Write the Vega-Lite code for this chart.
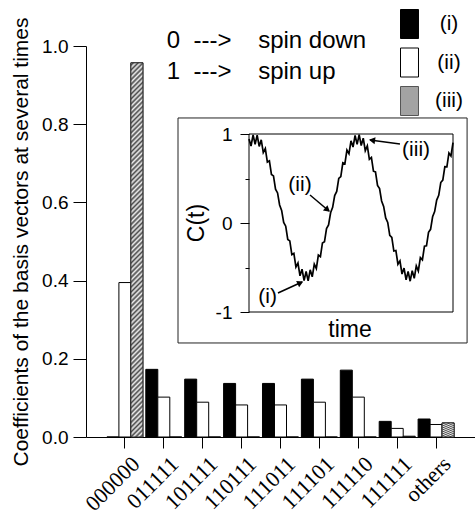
{
  "$schema": "https://vega.github.io/schema/vega-lite/v6.json",
  "width": 389,
  "height": 391,
  "autosize": {"type": "none"},
  "padding": {"left": 86, "top": 46, "right": 0, "bottom": 79},
  "background": "white",
  "config": {
    "view": {"stroke": null},
    "font": "Liberation Sans",
    "axis": {"grid": false, "domainColor": "black", "tickColor": "black", "labelColor": "black", "titleColor": "black", "domainWidth": 1, "tickWidth": 1},
    "text": {"font": "Liberation Sans", "color": "black"}
  },
  "datasets": {
    "bars": [
      {"state": "000000", "series": "(i)", "value": 0},
      {"state": "000000", "series": "(ii)", "value": 0.395},
      {"state": "000000", "series": "(iii)", "value": 0.957},
      {"state": "011111", "series": "(i)", "value": 0.173},
      {"state": "011111", "series": "(ii)", "value": 0.102},
      {"state": "011111", "series": "(iii)", "value": 0},
      {"state": "101111", "series": "(i)", "value": 0.148},
      {"state": "101111", "series": "(ii)", "value": 0.089},
      {"state": "101111", "series": "(iii)", "value": 0},
      {"state": "110111", "series": "(i)", "value": 0.137},
      {"state": "110111", "series": "(ii)", "value": 0.082},
      {"state": "110111", "series": "(iii)", "value": 0},
      {"state": "111011", "series": "(i)", "value": 0.137},
      {"state": "111011", "series": "(ii)", "value": 0.082},
      {"state": "111011", "series": "(iii)", "value": 0},
      {"state": "111101", "series": "(i)", "value": 0.148},
      {"state": "111101", "series": "(ii)", "value": 0.089},
      {"state": "111101", "series": "(iii)", "value": 0},
      {"state": "111110", "series": "(i)", "value": 0.171},
      {"state": "111110", "series": "(ii)", "value": 0.102},
      {"state": "111110", "series": "(iii)", "value": 0},
      {"state": "111111", "series": "(i)", "value": 0.040},
      {"state": "111111", "series": "(ii)", "value": 0.022},
      {"state": "111111", "series": "(iii)", "value": 0.002},
      {"state": "others", "series": "(i)", "value": 0.046},
      {"state": "others", "series": "(ii)", "value": 0.032},
      {"state": "others", "series": "(iii)", "value": 0.036}
    ],
    "curve": [
      {"time": 0, "C": 0.943}, {"time": 1, "C": 0.865}, {"time": 2, "C": 0.990}, {"time": 3, "C": 0.885}, {"time": 4, "C": 0.987},
      {"time": 5, "C": 0.860}, {"time": 6, "C": 0.935}, {"time": 7, "C": 0.792}, {"time": 8, "C": 0.837}, {"time": 9, "C": 0.685},
      {"time": 10, "C": 0.699}, {"time": 11, "C": 0.545}, {"time": 12, "C": 0.529}, {"time": 13, "C": 0.380}, {"time": 14, "C": 0.338},
      {"time": 15, "C": 0.203}, {"time": 16, "C": 0.142}, {"time": 17, "C": 0.007}, {"time": 18, "C": -0.036}, {"time": 19, "C": -0.185},
      {"time": 20, "C": -0.201}, {"time": 21, "C": -0.355}, {"time": 22, "C": -0.342}, {"time": 23, "C": -0.495}, {"time": 24, "C": -0.450},
      {"time": 25, "C": -0.594}, {"time": 26, "C": -0.519}, {"time": 27, "C": -0.647}, {"time": 28, "C": -0.545}, {"time": 29, "C": -0.650},
      {"time": 30, "C": -0.526}, {"time": 31, "C": -0.605}, {"time": 32, "C": -0.463}, {"time": 33, "C": -0.512}, {"time": 34, "C": -0.360},
      {"time": 35, "C": -0.378}, {"time": 36, "C": -0.224}, {"time": 37, "C": -0.211}, {"time": 38, "C": -0.062}, {"time": 39, "C": -0.022},
      {"time": 40, "C": 0.115}, {"time": 41, "C": 0.176}, {"time": 42, "C": 0.308}, {"time": 43, "C": 0.355}, {"time": 44, "C": 0.502},
      {"time": 45, "C": 0.522}, {"time": 46, "C": 0.676}, {"time": 47, "C": 0.666}, {"time": 48, "C": 0.819}, {"time": 49, "C": 0.778},
      {"time": 50, "C": 0.924}, {"time": 51, "C": 0.853}, {"time": 52, "C": 0.983}, {"time": 53, "C": 0.884}, {"time": 54, "C": 0.993},
      {"time": 55, "C": 0.871}, {"time": 56, "C": 0.953}, {"time": 57, "C": 0.813}, {"time": 58, "C": 0.866}, {"time": 59, "C": 0.715},
      {"time": 60, "C": 0.737}, {"time": 61, "C": 0.582}, {"time": 62, "C": 0.574}, {"time": 63, "C": 0.423}, {"time": 64, "C": 0.387},
      {"time": 65, "C": 0.248}, {"time": 66, "C": 0.187}, {"time": 67, "C": 0.057}, {"time": 68, "C": 0.007}, {"time": 69, "C": -0.138},
      {"time": 70, "C": -0.162}, {"time": 71, "C": -0.315}, {"time": 72, "C": -0.309}, {"time": 73, "C": -0.463}, {"time": 74, "C": -0.426},
      {"time": 75, "C": -0.573}, {"time": 76, "C": -0.506}, {"time": 77, "C": -0.638}, {"time": 78, "C": -0.543}, {"time": 79, "C": -0.654},
      {"time": 80, "C": -0.535}, {"time": 81, "C": -0.621}, {"time": 82, "C": -0.482}, {"time": 83, "C": -0.539}, {"time": 84, "C": -0.389},
      {"time": 85, "C": -0.415}, {"time": 86, "C": -0.260}, {"time": 87, "C": -0.256}, {"time": 88, "C": -0.104}, {"time": 89, "C": -0.071},
      {"time": 90, "C": 0.070}, {"time": 91, "C": 0.128}, {"time": 92, "C": 0.258}, {"time": 93, "C": 0.311}, {"time": 94, "C": 0.455},
      {"time": 95, "C": 0.482}, {"time": 96, "C": 0.634}, {"time": 97, "C": 0.632}, {"time": 98, "C": 0.787}, {"time": 99, "C": 0.754},
      {"time": 100, "C": 0.902}
    ]
  },
  "layer": [
    {
      "data": {"name": "bars"},
      "layer": [
        {
          "mark": {"type": "bar", "stroke": "black", "strokeWidth": 1},
          "encoding": {
            "x": {
              "field": "state", "type": "nominal", "sort": null,
              "scale": {"domain": ["000000", "011111", "101111", "110111", "111011", "111101", "111110", "111111", "others"], "paddingInner": 0, "paddingOuter": 0.5},
              "axis": {"title": null, "labelFont": "Liberation Serif", "labelFontSize": 22, "labelAngle": -45, "labelAlign": "right", "labelBaseline": "top", "labelPadding": 5, "labelOffset": 4, "tickSize": 11, "labelOverlap": false}
            },
            "xOffset": {"field": "series", "type": "nominal", "scale": {"domain": ["(i)", "(ii)", "(iii)"], "paddingInner": 0, "paddingOuter": 0.1208}},
            "y": {
              "field": "value", "type": "quantitative",
              "scale": {"domain": [0, 1], "nice": false},
              "axis": {
                "title": "Coefficients of the basis vectors at several times",
                "titleFontSize": 21, "titleFontWeight": "normal", "titlePadding": 10,
                "values": [0, 0.1, 0.2, 0.3, 0.4, 0.5, 0.6, 0.7, 0.8, 0.9, 1.0],
                "labelExpr": "round(datum.value*10) % 2 === 0 ? format(datum.value, '.1f') : ''",
                "labelFontSize": 19, "labelPadding": 5, "labelOverlap": false,
                "tickSize": {"condition": {"test": "round(datum.value*10) % 2 === 1", "value": 6}, "value": 13}
              }
            },
            "fill": {
              "field": "series", "type": "nominal",
              "scale": {"domain": ["(i)", "(ii)", "(iii)"], "range": ["black", "white", "#a3a3a3"]},
              "legend": {
                "orient": "none", "legendX": 308.5, "legendY": -37, "title": null, "padding": 0,
                "symbolType": "M-0.62,-1H0.62V1H-0.62Z", "symbolSize": 841, "symbolStrokeColor": "black", "symbolStrokeWidth": 1,
                "labelFontSize": 21, "labelAlign": "center", "labelOffset": 24.5, "rowPadding": 4.5, "labelColor": "black",
                "encode": {
                  "symbols": {
                    "update": {
                      "fill": {"signal": "datum.value === '(i)' ? 'black' : datum.value === '(ii)' ? 'white' : {gradient: 'linear', x1: 0, y1: 0, x2: 0.726, y2: 1.17, stops: [{offset: 0, color: '#efefef'}, {offset: 0.05, color: '#4a4a4a'}, {offset: 0.1, color: '#efefef'}, {offset: 0.15, color: '#4a4a4a'}, {offset: 0.2, color: '#efefef'}, {offset: 0.25, color: '#4a4a4a'}, {offset: 0.3, color: '#efefef'}, {offset: 0.35, color: '#4a4a4a'}, {offset: 0.4, color: '#efefef'}, {offset: 0.45, color: '#4a4a4a'}, {offset: 0.5, color: '#efefef'}, {offset: 0.55, color: '#4a4a4a'}, {offset: 0.6, color: '#efefef'}, {offset: 0.65, color: '#4a4a4a'}, {offset: 0.7, color: '#efefef'}, {offset: 0.75, color: '#4a4a4a'}, {offset: 0.8, color: '#efefef'}, {offset: 0.85, color: '#4a4a4a'}, {offset: 0.9, color: '#efefef'}, {offset: 0.95, color: '#4a4a4a'}, {offset: 1, color: '#efefef'}]}"},
                      "stroke": {"signal": "datum.value === '(iii)' ? '#555555' : 'black'"}
                    }
                  }
                }
              }
            }
          }
        },
        {
          "transform": [{"filter": "datum.series === '(iii)' && datum.value > 0.01"}],
          "mark": {
            "type": "bar", "stroke": "#333333", "strokeWidth": 1,
            "fill": {
              "gradient": "linear", "x1": 0, "y1": 0, "x2": 0.0331, "y2": 1.031,
              "stops": [
                {"offset": 0, "color": "#efefef"}, {"offset": 0.00625, "color": "#4a4a4a"}, {"offset": 0.0125, "color": "#efefef"}, {"offset": 0.01875, "color": "#4a4a4a"},
                {"offset": 0.025, "color": "#efefef"}, {"offset": 0.03125, "color": "#4a4a4a"}, {"offset": 0.0375, "color": "#efefef"}, {"offset": 0.04375, "color": "#4a4a4a"},
                {"offset": 0.05, "color": "#efefef"}, {"offset": 0.05625, "color": "#4a4a4a"}, {"offset": 0.0625, "color": "#efefef"}, {"offset": 0.06875, "color": "#4a4a4a"},
                {"offset": 0.075, "color": "#efefef"}, {"offset": 0.08125, "color": "#4a4a4a"}, {"offset": 0.0875, "color": "#efefef"}, {"offset": 0.09375, "color": "#4a4a4a"},
                {"offset": 0.1, "color": "#efefef"}, {"offset": 0.10625, "color": "#4a4a4a"}, {"offset": 0.1125, "color": "#efefef"}, {"offset": 0.11875, "color": "#4a4a4a"},
                {"offset": 0.125, "color": "#efefef"}, {"offset": 0.13125, "color": "#4a4a4a"}, {"offset": 0.1375, "color": "#efefef"}, {"offset": 0.14375, "color": "#4a4a4a"},
                {"offset": 0.15, "color": "#efefef"}, {"offset": 0.15625, "color": "#4a4a4a"}, {"offset": 0.1625, "color": "#efefef"}, {"offset": 0.16875, "color": "#4a4a4a"},
                {"offset": 0.175, "color": "#efefef"}, {"offset": 0.18125, "color": "#4a4a4a"}, {"offset": 0.1875, "color": "#efefef"}, {"offset": 0.19375, "color": "#4a4a4a"},
                {"offset": 0.2, "color": "#efefef"}, {"offset": 0.20625, "color": "#4a4a4a"}, {"offset": 0.2125, "color": "#efefef"}, {"offset": 0.21875, "color": "#4a4a4a"},
                {"offset": 0.225, "color": "#efefef"}, {"offset": 0.23125, "color": "#4a4a4a"}, {"offset": 0.2375, "color": "#efefef"}, {"offset": 0.24375, "color": "#4a4a4a"},
                {"offset": 0.25, "color": "#efefef"}, {"offset": 0.25625, "color": "#4a4a4a"}, {"offset": 0.2625, "color": "#efefef"}, {"offset": 0.26875, "color": "#4a4a4a"},
                {"offset": 0.275, "color": "#efefef"}, {"offset": 0.28125, "color": "#4a4a4a"}, {"offset": 0.2875, "color": "#efefef"}, {"offset": 0.29375, "color": "#4a4a4a"},
                {"offset": 0.3, "color": "#efefef"}, {"offset": 0.30625, "color": "#4a4a4a"}, {"offset": 0.3125, "color": "#efefef"}, {"offset": 0.31875, "color": "#4a4a4a"},
                {"offset": 0.325, "color": "#efefef"}, {"offset": 0.33125, "color": "#4a4a4a"}, {"offset": 0.3375, "color": "#efefef"}, {"offset": 0.34375, "color": "#4a4a4a"},
                {"offset": 0.35, "color": "#efefef"}, {"offset": 0.35625, "color": "#4a4a4a"}, {"offset": 0.3625, "color": "#efefef"}, {"offset": 0.36875, "color": "#4a4a4a"},
                {"offset": 0.375, "color": "#efefef"}, {"offset": 0.38125, "color": "#4a4a4a"}, {"offset": 0.3875, "color": "#efefef"}, {"offset": 0.39375, "color": "#4a4a4a"},
                {"offset": 0.4, "color": "#efefef"}, {"offset": 0.40625, "color": "#4a4a4a"}, {"offset": 0.4125, "color": "#efefef"}, {"offset": 0.41875, "color": "#4a4a4a"},
                {"offset": 0.425, "color": "#efefef"}, {"offset": 0.43125, "color": "#4a4a4a"}, {"offset": 0.4375, "color": "#efefef"}, {"offset": 0.44375, "color": "#4a4a4a"},
                {"offset": 0.45, "color": "#efefef"}, {"offset": 0.45625, "color": "#4a4a4a"}, {"offset": 0.4625, "color": "#efefef"}, {"offset": 0.46875, "color": "#4a4a4a"},
                {"offset": 0.475, "color": "#efefef"}, {"offset": 0.48125, "color": "#4a4a4a"}, {"offset": 0.4875, "color": "#efefef"}, {"offset": 0.49375, "color": "#4a4a4a"},
                {"offset": 0.5, "color": "#efefef"}, {"offset": 0.50625, "color": "#4a4a4a"}, {"offset": 0.5125, "color": "#efefef"}, {"offset": 0.51875, "color": "#4a4a4a"},
                {"offset": 0.525, "color": "#efefef"}, {"offset": 0.53125, "color": "#4a4a4a"}, {"offset": 0.5375, "color": "#efefef"}, {"offset": 0.54375, "color": "#4a4a4a"},
                {"offset": 0.55, "color": "#efefef"}, {"offset": 0.55625, "color": "#4a4a4a"}, {"offset": 0.5625, "color": "#efefef"}, {"offset": 0.56875, "color": "#4a4a4a"},
                {"offset": 0.575, "color": "#efefef"}, {"offset": 0.58125, "color": "#4a4a4a"}, {"offset": 0.5875, "color": "#efefef"}, {"offset": 0.59375, "color": "#4a4a4a"},
                {"offset": 0.6, "color": "#efefef"}, {"offset": 0.60625, "color": "#4a4a4a"}, {"offset": 0.6125, "color": "#efefef"}, {"offset": 0.61875, "color": "#4a4a4a"},
                {"offset": 0.625, "color": "#efefef"}, {"offset": 0.63125, "color": "#4a4a4a"}, {"offset": 0.6375, "color": "#efefef"}, {"offset": 0.64375, "color": "#4a4a4a"},
                {"offset": 0.65, "color": "#efefef"}, {"offset": 0.65625, "color": "#4a4a4a"}, {"offset": 0.6625, "color": "#efefef"}, {"offset": 0.66875, "color": "#4a4a4a"},
                {"offset": 0.675, "color": "#efefef"}, {"offset": 0.68125, "color": "#4a4a4a"}, {"offset": 0.6875, "color": "#efefef"}, {"offset": 0.69375, "color": "#4a4a4a"},
                {"offset": 0.7, "color": "#efefef"}, {"offset": 0.70625, "color": "#4a4a4a"}, {"offset": 0.7125, "color": "#efefef"}, {"offset": 0.71875, "color": "#4a4a4a"},
                {"offset": 0.725, "color": "#efefef"}, {"offset": 0.73125, "color": "#4a4a4a"}, {"offset": 0.7375, "color": "#efefef"}, {"offset": 0.74375, "color": "#4a4a4a"},
                {"offset": 0.75, "color": "#efefef"}, {"offset": 0.75625, "color": "#4a4a4a"}, {"offset": 0.7625, "color": "#efefef"}, {"offset": 0.76875, "color": "#4a4a4a"},
                {"offset": 0.775, "color": "#efefef"}, {"offset": 0.78125, "color": "#4a4a4a"}, {"offset": 0.7875, "color": "#efefef"}, {"offset": 0.79375, "color": "#4a4a4a"},
                {"offset": 0.8, "color": "#efefef"}, {"offset": 0.80625, "color": "#4a4a4a"}, {"offset": 0.8125, "color": "#efefef"}, {"offset": 0.81875, "color": "#4a4a4a"},
                {"offset": 0.825, "color": "#efefef"}, {"offset": 0.83125, "color": "#4a4a4a"}, {"offset": 0.8375, "color": "#efefef"}, {"offset": 0.84375, "color": "#4a4a4a"},
                {"offset": 0.85, "color": "#efefef"}, {"offset": 0.85625, "color": "#4a4a4a"}, {"offset": 0.8625, "color": "#efefef"}, {"offset": 0.86875, "color": "#4a4a4a"},
                {"offset": 0.875, "color": "#efefef"}, {"offset": 0.88125, "color": "#4a4a4a"}, {"offset": 0.8875, "color": "#efefef"}, {"offset": 0.89375, "color": "#4a4a4a"},
                {"offset": 0.9, "color": "#efefef"}, {"offset": 0.90625, "color": "#4a4a4a"}, {"offset": 0.9125, "color": "#efefef"}, {"offset": 0.91875, "color": "#4a4a4a"},
                {"offset": 0.925, "color": "#efefef"}, {"offset": 0.93125, "color": "#4a4a4a"}, {"offset": 0.9375, "color": "#efefef"}, {"offset": 0.94375, "color": "#4a4a4a"},
                {"offset": 0.95, "color": "#efefef"}, {"offset": 0.95625, "color": "#4a4a4a"}, {"offset": 0.9625, "color": "#efefef"}, {"offset": 0.96875, "color": "#4a4a4a"},
                {"offset": 0.975, "color": "#efefef"}, {"offset": 0.98125, "color": "#4a4a4a"}, {"offset": 0.9875, "color": "#efefef"}, {"offset": 0.99375, "color": "#4a4a4a"},
                {"offset": 1, "color": "#efefef"}
              ]
            }
          },
          "encoding": {
            "x": {"field": "state", "type": "nominal", "sort": null},
            "xOffset": {"field": "series", "type": "nominal"},
            "y": {"field": "value", "type": "quantitative"}
          }
        },
        {
          "data": {"values": [{"note": "spin legend"}]},
          "mark": {"type": "text", "align": "left", "baseline": "alphabetic", "fontSize": 24, "lineHeight": 31, "dx": 3},
          "encoding": {
            "x": {"datum": "011111", "type": "nominal"},
            "y": {"datum": 0.995, "type": "quantitative"},
            "text": {"value": ["0\u00a0\u00a0--->\u00a0\u00a0\u00a0\u00a0spin down", "1\u00a0\u00a0--->\u00a0\u00a0\u00a0\u00a0spin up"]}
          }
        }
      ]
    },
    {
      "layer": [
        {
          "data": {"values": [{"t0": -34.8, "t1": 106.9, "c0": -1.348, "c1": 1.18}]},
          "mark": {"type": "rect", "fill": "white", "stroke": "#222222", "strokeWidth": 1},
          "encoding": {
            "x": {"field": "t0", "type": "quantitative", "scale": {"domain": [-79.9, 110.78], "nice": false, "zero": false}, "axis": null},
            "x2": {"field": "t1"},
            "y": {
              "field": "c0", "type": "quantitative",
              "scale": {"domain": [-2.4045, 1.9888], "nice": false, "zero": false},
              "axis": {
                "orient": "left", "offset": -163, "domain": false, "title": null, "zindex": 1,
                "values": [-1, -0.5, 0, 0.5, 1],
                "labelExpr": "datum.value === 1 ? '1' : datum.value === 0 ? '0' : datum.value === -1 ? '-1' : ''",
                "labelFontSize": 19, "labelPadding": 8, "labelOverlap": false,
                "tickSize": {"condition": {"test": "abs(datum.value) === 0.5", "value": 4}, "value": 9}
              }
            },
            "y2": {"field": "c1"}
          }
        },
        {
          "data": {"values": [{"t0": 0, "t1": 100, "c0": -1, "c1": 1}]},
          "mark": {"type": "rect", "fillOpacity": 0, "stroke": "black", "strokeWidth": 1},
          "encoding": {
            "x": {"field": "t0", "type": "quantitative"},
            "x2": {"field": "t1"},
            "y": {"field": "c0", "type": "quantitative"},
            "y2": {"field": "c1"}
          }
        },
        {
          "data": {"name": "curve"},
          "mark": {"type": "line", "color": "black", "strokeWidth": 1.7},
          "encoding": {
            "x": {"field": "time", "type": "quantitative"},
            "y": {"field": "C", "type": "quantitative"}
          }
        },
        {
          "data": {"values": [
            {"t0": 14.2, "c0": -0.787, "t1": 26.0, "c1": -0.663},
            {"t0": 29.9, "c0": 0.315, "t1": 39.2, "c1": 0.135},
            {"t0": 74.0, "c0": 0.888, "t1": 59.3, "c1": 0.933}
          ]},
          "mark": {"type": "rule", "color": "black", "strokeWidth": 1.5},
          "encoding": {
            "x": {"field": "t0", "type": "quantitative"},
            "y": {"field": "c0", "type": "quantitative"},
            "x2": {"field": "t1"},
            "y2": {"field": "c1"}
          }
        },
        {
          "data": {"values": [{"arrow": "(i)"}]},
          "mark": {"type": "point", "shape": "triangle-up", "angle": 65, "size": 50, "filled": true, "color": "black", "opacity": 1},
          "encoding": {"x": {"datum": 25.2, "type": "quantitative"}, "y": {"datum": -0.672, "type": "quantitative"}}
        },
        {
          "data": {"values": [{"arrow": "(ii)"}]},
          "mark": {"type": "point", "shape": "triangle-up", "angle": 130, "size": 50, "filled": true, "color": "black", "opacity": 1},
          "encoding": {"x": {"datum": 38.5, "type": "quantitative"}, "y": {"datum": 0.148, "type": "quantitative"}}
        },
        {
          "data": {"values": [{"arrow": "(iii)"}]},
          "mark": {"type": "point", "shape": "triangle-up", "angle": 278, "size": 50, "filled": true, "color": "black", "opacity": 1},
          "encoding": {"x": {"datum": 60.3, "type": "quantitative"}, "y": {"datum": 0.930, "type": "quantitative"}}
        },
        {
          "data": {"values": [
            {"label": "(i)", "t": 9.1, "c": -0.83},
            {"label": "(ii)", "t": 25.0, "c": 0.427},
            {"label": "(iii)", "t": 81.9, "c": 0.82}
          ]},
          "mark": {"type": "text", "fontSize": 21, "align": "center", "baseline": "middle"},
          "encoding": {
            "x": {"field": "t", "type": "quantitative"},
            "y": {"field": "c", "type": "quantitative"},
            "text": {"field": "label"}
          }
        },
        {
          "data": {"values": [{"label": "time"}]},
          "mark": {"type": "text", "fontSize": 23, "align": "center", "baseline": "middle"},
          "encoding": {
            "x": {"datum": 49.5, "type": "quantitative"},
            "y": {"datum": -1.2, "type": "quantitative"},
            "text": {"field": "label"}
          }
        },
        {
          "data": {"values": [{"label": "C(t)"}]},
          "mark": {"type": "text", "fontSize": 23, "align": "center", "baseline": "middle", "angle": 270},
          "encoding": {
            "x": {"datum": -25.6, "type": "quantitative"},
            "y": {"datum": 0, "type": "quantitative"},
            "text": {"field": "label"}
          }
        }
      ]
    }
  ],
  "resolve": {"scale": {"x": "independent", "y": "independent", "xOffset": "independent"}}
}
